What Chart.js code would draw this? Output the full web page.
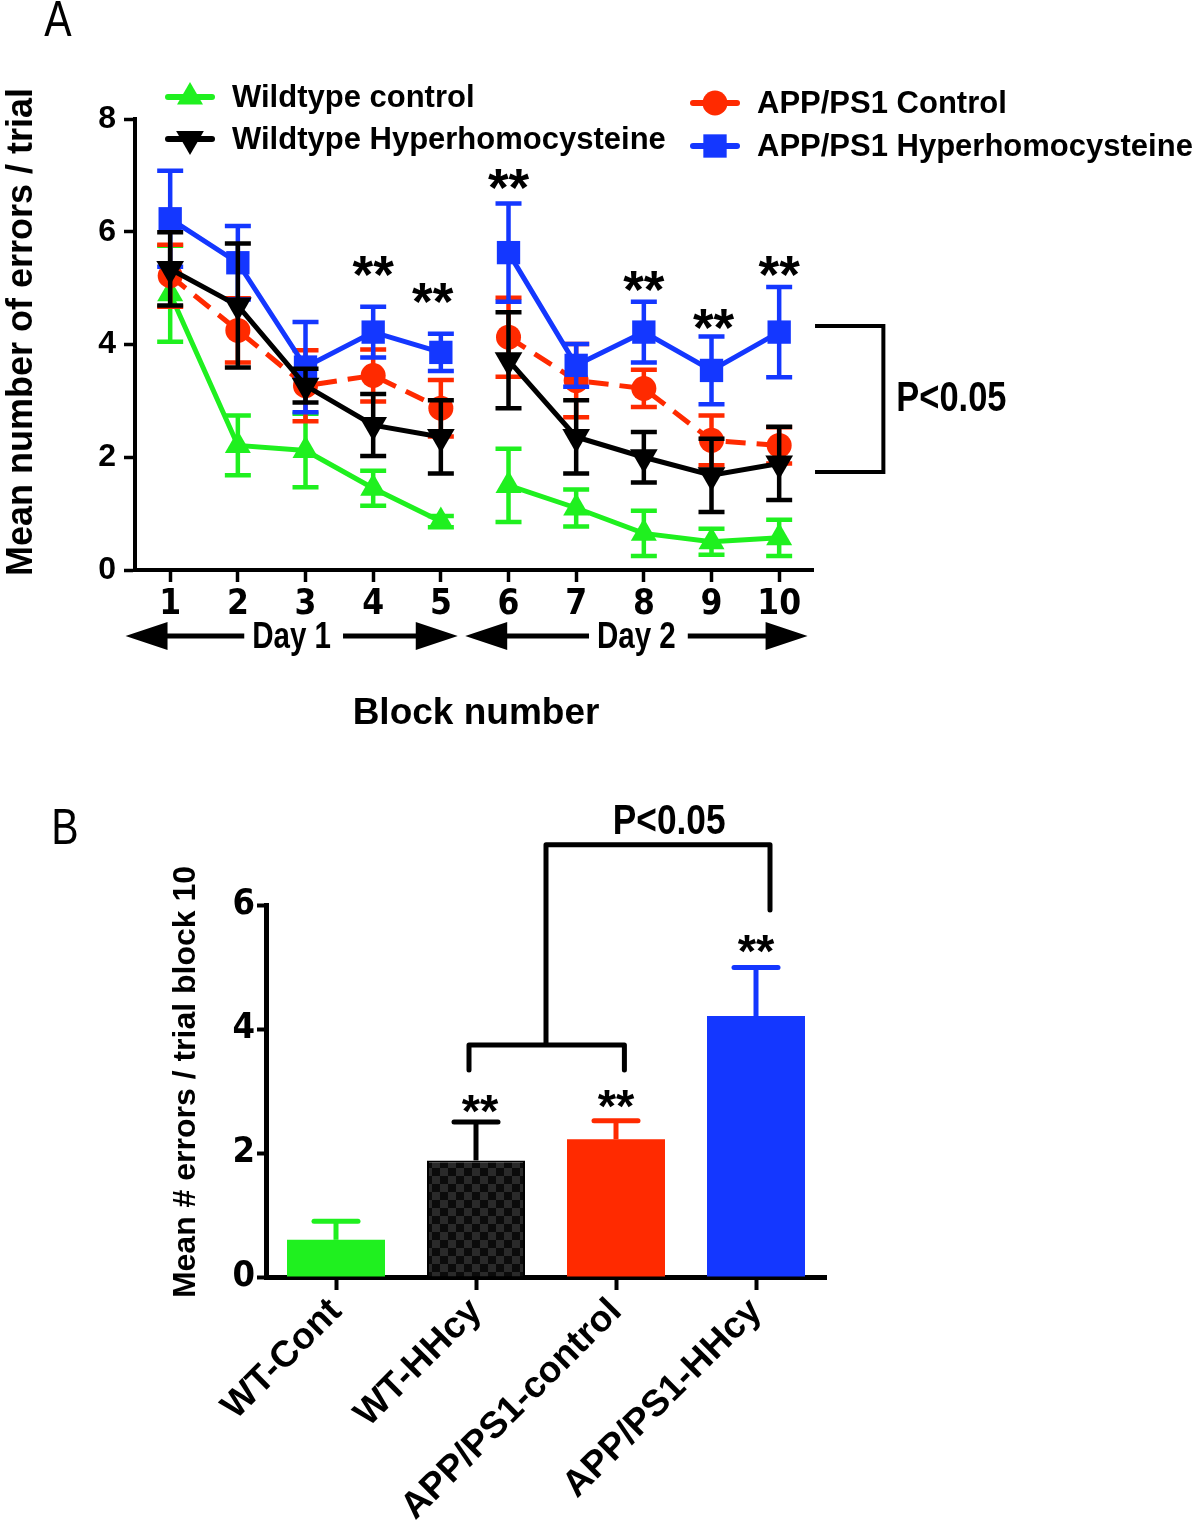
<!DOCTYPE html>
<html>
<head>
<meta charset="utf-8">
<script src="https://cdn.jsdelivr.net/npm/chart.js@4.4.1/dist/chart.umd.min.js"></script>
<style>
  html, body { margin: 0; padding: 0; background: #fff; }
  #wrap { position: relative; width: 1200px; height: 1526px; }
  #chartA { position: absolute; left: 0; top: 0; width: 1200px; height: 760px; }
  #chartB { position: absolute; left: 0; top: 760px; width: 1200px; height: 766px; }
</style>
</head>
<body>
<div id="wrap">
  <canvas id="chartA" width="1200" height="760"></canvas>
  <canvas id="chartB" width="1200" height="766"></canvas>
</div>
<script>
// ---------- data: panel A (mean errors per trial, +/- SEM) ----------
const blocks = [1, 2, 3, 4, 5, 6, 7, 8, 9, 10];

const wtControlMean  = [4.90, 2.21, 2.12, 1.45, 0.86, 1.50, 1.10, 0.65, 0.50, 0.57];
const wtControlSem   = [0.85, 0.53, 0.65, 0.31, 0.10, 0.65, 0.33, 0.40, 0.23, 0.32];
const wtHhcyMean     = [5.34, 4.69, 3.27, 2.57, 2.36, 3.72, 2.36, 2.00, 1.68, 1.89];
const wtHhcySem      = [0.65, 1.10, 0.30, 0.55, 0.65, 0.85, 0.65, 0.45, 0.65, 0.65];
const appControlMean = [5.22, 4.25, 3.27, 3.45, 2.87, 4.13, 3.36, 3.22, 2.30, 2.21];
const appControlSem  = [0.55, 0.57, 0.63, 0.46, 0.50, 0.70, 0.65, 0.33, 0.44, 0.32];
const appHhcyMean    = [6.23, 5.45, 3.60, 4.22, 3.86, 5.63, 3.63, 4.22, 3.54, 4.22];
const appHhcySem     = [0.85, 0.65, 0.80, 0.45, 0.33, 0.87, 0.38, 0.54, 0.60, 0.80];

// significance marks for panel A (block position, level in y units)
const starBlocksA = [4, 4.88, 6, 8, 9.03, 10];
const starLevelsA = [5.40, 4.92, 6.94, 5.13, 4.46, 5.40];

// ---------- data: panel B (block 10) ----------
const groupsB     = ['WT-Cont', 'WT-HHcy', 'APP/PS1-control', 'APP/PS1-HHcy'];
const block10Mean = [0.60, 1.88, 2.22, 4.21];
const block10Sem  = [0.30, 0.62, 0.30, 0.78];
const starLevelsB = [null, 2.82, 2.90, 5.39];

// ---------- look ----------
const GREEN = '#1ff01f';
const BLACK = '#000000';
const RED   = '#ff2a00';
const BLUE  = '#1437ff';
const ARIAL  = '"Liberation Sans", Arial, sans-serif';
const NARROW = '"Liberation Sans Narrow", "Arial Narrow", "DejaVu Sans Condensed", sans-serif';

// line data with a break between day 1 and day 2
function withGap(values) {
  const pts = blocks.map((b, i) => ({ x: b, y: values[i] }));
  pts.splice(5, 0, { x: 5.5, y: null });
  return pts;
}

function drawMarker(ctx, style, x, y, r, rot) {
  ctx.save();
  ctx.translate(x, y);
  ctx.rotate((rot || 0) * Math.PI / 180);
  ctx.beginPath();
  if (style === 'circle') {
    ctx.arc(0, 0, r, 0, Math.PI * 2);
  } else if (style === 'rect') {
    const s = r * Math.SQRT1_2;
    ctx.rect(-s, -s, 2 * s, 2 * s);
  } else if (style === 'triangle') {
    ctx.moveTo(0, -r);
    ctx.lineTo(r * Math.sin(Math.PI / 3), r / 2);
    ctx.lineTo(-r * Math.sin(Math.PI / 3), r / 2);
    ctx.closePath();
  }
  ctx.fill();
  ctx.restore();
}

// Arial Narrow look: bold Arial squeezed horizontally
function narrowText(ctx, text, x, y, size, align, weight) {
  ctx.save();
  ctx.translate(x, y);
  ctx.scale(0.82, 1);
  ctx.font = (weight || 'bold') + ' ' + size + 'px ' + ARIAL;
  ctx.textAlign = align || 'center';
  ctx.textBaseline = 'middle';
  ctx.fillText(text, 0, 0);
  ctx.restore();
}

function narrowWidth(ctx, text, size) {
  ctx.save();
  ctx.font = 'bold ' + size + 'px ' + ARIAL;
  const w = ctx.measureText(text).width * 0.82;
  ctx.restore();
  return w;
}

function drawStars(ctx, x, yCenter, size) {
  ctx.font = 'bold ' + size + 'px ' + ARIAL;
  ctx.textAlign = 'center';
  ctx.textBaseline = 'alphabetic';
  ctx.fillStyle = '#000';
  ctx.fillText('**', x, yCenter + size * 0.52);
}

// ---------- panel A plugins ----------
const errorBarsA = {
  id: 'errorBarsA',
  beforeDatasetDraw(chart, args) {
    const ds = chart.data.datasets[args.index];
    const yScale = chart.scales.y;
    const ctx = chart.ctx;
    ctx.save();
    ctx.strokeStyle = ds.borderColor;
    ctx.lineWidth = 4.5;
    args.meta.data.forEach((pt, i) => {
      const raw = ds.data[i];
      if (raw.y === null) return;
      const sem = ds.sem[blocks.indexOf(raw.x)];
      const yTop = yScale.getPixelForValue(raw.y + sem);
      const yBot = yScale.getPixelForValue(raw.y - sem);
      ctx.beginPath();
      ctx.moveTo(pt.x, yTop); ctx.lineTo(pt.x, yBot);
      ctx.moveTo(pt.x - 13, yTop); ctx.lineTo(pt.x + 13, yTop);
      ctx.moveTo(pt.x - 13, yBot); ctx.lineTo(pt.x + 13, yBot);
      ctx.stroke();
    });
    ctx.restore();
  }
};

const dayArrows = [
  { label: 'Day 1', from: 0.34, to: 5.25 },
  { label: 'Day 2', from: 5.36, to: 10.42 }
];

const annotationsA = {
  id: 'annotationsA',
  afterDraw(chart) {
    const ctx = chart.ctx;
    const xs = chart.scales.x;
    const ys = chart.scales.y;
    ctx.save();
    ctx.fillStyle = '#000';
    ctx.strokeStyle = '#000';

    // panel letter
    narrowText(ctx, 'A', 58, 22, 50, 'center', 'normal');

    // y title
    ctx.save();
    ctx.translate(22, 332);
    ctx.rotate(-Math.PI / 2);
    ctx.font = 'bold 36px ' + ARIAL;
    ctx.textAlign = 'center';
    ctx.textBaseline = 'middle';
    ctx.fillText('Mean number of errors / trial', 0, 0);
    ctx.restore();

    // x title
    ctx.font = 'bold 37px ' + ARIAL;
    ctx.textAlign = 'center';
    ctx.textBaseline = 'middle';
    ctx.fillText('Block number', 476, 714);

    // day arrows
    dayArrows.forEach(a => {
      const x1 = xs.getPixelForValue(a.from);
      const x2 = xs.getPixelForValue(a.to);
      const mid = (x1 + x2) / 2;
      const y = 636;
      const tw = narrowWidth(ctx, a.label, 36);
      ctx.lineWidth = 5;
      ctx.beginPath();
      ctx.moveTo(x1 + 35, y); ctx.lineTo(mid - tw / 2 - 8, y);
      ctx.moveTo(mid + tw / 2 + 12, y); ctx.lineTo(x2 - 35, y);
      ctx.stroke();
      ctx.beginPath();
      ctx.moveTo(x1, y); ctx.lineTo(x1 + 42, y - 14); ctx.lineTo(x1 + 42, y + 14); ctx.closePath();
      ctx.moveTo(x2, y); ctx.lineTo(x2 - 42, y - 14); ctx.lineTo(x2 - 42, y + 14); ctx.closePath();
      ctx.fill();
      narrowText(ctx, a.label, mid, y + 2, 36);
    });

    // significance stars
    starBlocksA.forEach((b, i) => {
      drawStars(ctx, xs.getPixelForValue(b), ys.getPixelForValue(starLevelsA[i]), 53);
    });

    // bracket on the right (block 10: APP/PS1-HHcy vs WT-HHcy)
    const bx0 = xs.getPixelForValue(10.53);
    const bx1 = xs.getPixelForValue(11.54);
    const by0 = ys.getPixelForValue(4.33);
    const by1 = ys.getPixelForValue(1.74);
    ctx.lineWidth = 4;
    ctx.beginPath();
    ctx.moveTo(bx0, by0); ctx.lineTo(bx1, by0); ctx.lineTo(bx1, by1); ctx.lineTo(bx0, by1);
    ctx.stroke();
    narrowText(ctx, 'P<0.05', bx1 + 13, (by0 + by1) / 2 + 1, 42, 'left');

    // legend
    const items = [
      { ds: 0, x: 190, y: 97 },
      { ds: 1, x: 190, y: 139 },
      { ds: 2, x: 715, y: 103 },
      { ds: 3, x: 715, y: 146 }
    ];
    ctx.font = 'bold 31px ' + ARIAL;
    items.forEach(it => {
      const ds = chart.data.datasets[it.ds];
      ctx.strokeStyle = ds.borderColor;
      ctx.fillStyle = ds.borderColor;
      ctx.lineWidth = 6;
      ctx.lineCap = 'round';
      ctx.beginPath();
      ctx.moveTo(it.x - 22, it.y); ctx.lineTo(it.x + 22, it.y);
      ctx.stroke();
      drawMarker(ctx, ds.pointStyle, it.x, it.y, ds.pointRadius, ds.pointRotation);
      ctx.fillStyle = '#000';
      ctx.textAlign = 'left';
      ctx.textBaseline = 'middle';
      ctx.fillText(ds.label, it.x + 42, it.y + 1);
    });
    ctx.restore();
  }
};

new Chart(document.getElementById('chartA'), {
  type: 'line',
  data: {
    datasets: [
      {
        label: 'Wildtype control', data: withGap(wtControlMean), sem: wtControlSem,
        borderColor: GREEN, backgroundColor: GREEN, pointBackgroundColor: GREEN,
        borderWidth: 5, pointStyle: 'triangle', pointRadius: 15, pointBorderWidth: 0, order: 3
      },
      {
        label: 'Wildtype Hyperhomocysteine', data: withGap(wtHhcyMean), sem: wtHhcySem,
        borderColor: BLACK, backgroundColor: BLACK, pointBackgroundColor: BLACK,
        borderWidth: 5, pointStyle: 'triangle', pointRotation: 180, pointRadius: 16, pointBorderWidth: 0, order: 0
      },
      {
        label: 'APP/PS1 Control', data: withGap(appControlMean), sem: appControlSem,
        borderColor: RED, backgroundColor: RED, pointBackgroundColor: RED,
        borderWidth: 5, borderDash: [20, 11], pointStyle: 'circle', pointRadius: 12.5, pointBorderWidth: 0, order: 2
      },
      {
        label: 'APP/PS1 Hyperhomocysteine', data: withGap(appHhcyMean), sem: appHhcySem,
        borderColor: BLUE, backgroundColor: BLUE, pointBackgroundColor: BLUE,
        borderWidth: 5, pointStyle: 'rect', pointRadius: 16.5, pointBorderWidth: 0, order: 1
      }
    ]
  },
  options: {
    responsive: false,
    animation: false,
    spanGaps: false,
    layout: { padding: { left: 0, top: 119, right: 387, bottom: 0 } },
    plugins: { legend: { display: false }, tooltip: { enabled: false } },
    scales: {
      x: {
        type: 'linear', min: 0.48, max: 10.5,
        afterBuildTicks: s => { s.ticks = blocks.map(v => ({ value: v })); },
        afterFit: s => { s.height = 190; },
        border: { display: true, color: '#000', width: 4 },
        grid: { display: true, drawOnChartArea: false, drawTicks: true, tickLength: 12, tickWidth: 3.5, tickColor: '#000' },
        ticks: { color: '#000', font: { family: NARROW, size: 35, weight: 'bold' }, padding: 2, maxRotation: 0, autoSkip: false }
      },
      y: {
        min: 0, max: 8,
        afterFit: s => { s.width = 135; },
        border: { display: true, color: '#000', width: 4 },
        grid: { display: true, drawOnChartArea: false, drawTicks: true, tickLength: 11, tickWidth: 3.5, tickColor: '#000' },
        ticks: { stepSize: 2, color: '#000', font: { family: ARIAL, size: 32, weight: 'bold' }, padding: 8 }
      }
    }
  },
  plugins: [errorBarsA, annotationsA]
});

// ---------- panel B ----------
function checkerPattern(ctx) {
  const c = document.createElement('canvas');
  c.width = 16; c.height = 16;
  const g = c.getContext('2d');
  g.fillStyle = '#0b0b0b';
  g.fillRect(0, 0, 16, 16);
  g.fillStyle = '#2a2a2a';
  g.fillRect(0, 0, 8, 8);
  g.fillRect(8, 8, 8, 8);
  return ctx.createPattern(c, 'repeat');
}

const barColorsB = [GREEN, null, RED, BLUE];

const errorBarsB = {
  id: 'errorBarsB',
  afterDatasetsDraw(chart) {
    const ctx = chart.ctx;
    const ys = chart.scales.y;
    const meta = chart.getDatasetMeta(0);
    ctx.save();
    ctx.lineWidth = 5;
    meta.data.forEach((bar, i) => {
      const top = ys.getPixelForValue(block10Mean[i] + block10Sem[i]);
      ctx.strokeStyle = i === 1 ? BLACK : barColorsB[i];
      ctx.beginPath();
      ctx.moveTo(bar.x, bar.y); ctx.lineTo(bar.x, top);
      ctx.stroke();
      ctx.lineCap = 'round';
      ctx.beginPath();
      ctx.moveTo(bar.x - 22, top); ctx.lineTo(bar.x + 22, top);
      ctx.stroke();
      ctx.lineCap = 'butt';
    });
    ctx.restore();
  }
};

const annotationsB = {
  id: 'annotationsB',
  afterDraw(chart) {
    const ctx = chart.ctx;
    const xs = chart.scales.x;
    const ys = chart.scales.y;
    ctx.save();
    ctx.fillStyle = '#000';
    ctx.strokeStyle = '#000';

    narrowText(ctx, 'B', 65, 70, 50, 'center', 'normal');

    ctx.save();
    ctx.translate(186, 322);
    ctx.rotate(-Math.PI / 2);
    ctx.font = 'bold 32px ' + ARIAL;
    ctx.textAlign = 'center';
    ctx.textBaseline = 'middle';
    ctx.fillText('Mean # errors / trial block 10', 0, 0);
    ctx.restore();

    starLevelsB.forEach((lvl, i) => {
      if (lvl === null) return;
      drawStars(ctx, xs.getPixelForValue(i) + (i === 1 ? 4 : 0), ys.getPixelForValue(lvl), 47);
    });

    // brackets
    ctx.lineWidth = 5;
    ctx.lineCap = 'round';
    ctx.lineJoin = 'round';
    const xl = xs.getPixelForValue(0.95);
    const xr = xs.getPixelForValue(2.06);
    const xm = (xs.getPixelForValue(1) + xs.getPixelForValue(2)) / 2;
    const xb = xs.getPixelForValue(3.1);
    ctx.beginPath();
    ctx.moveTo(xl, ys.getPixelForValue(3.34));
    ctx.lineTo(xl, ys.getPixelForValue(3.74));
    ctx.lineTo(xr, ys.getPixelForValue(3.74));
    ctx.lineTo(xr, ys.getPixelForValue(3.34));
    ctx.moveTo(xm, ys.getPixelForValue(3.74));
    ctx.lineTo(xm, ys.getPixelForValue(6.97));
    ctx.lineTo(xb, ys.getPixelForValue(6.97));
    ctx.lineTo(xb, ys.getPixelForValue(5.92));
    ctx.stroke();

    narrowText(ctx, 'P<0.05', xs.getPixelForValue(2.38), ys.getPixelForValue(7.34), 43);
    ctx.restore();
  }
};

const ctxB = document.getElementById('chartB').getContext('2d');
barColorsB[1] = checkerPattern(ctxB);

new Chart(ctxB, {
  type: 'bar',
  data: {
    labels: groupsB,
    datasets: [{
      data: block10Mean,
      backgroundColor: barColorsB,
      borderColor: '#000',
      borderWidth: [0, 2, 0, 0],
      barPercentage: 0.7,
      categoryPercentage: 1.0
    }]
  },
  options: {
    responsive: false,
    animation: false,
    layout: { padding: { left: 0, top: 145, right: 374, bottom: 0 } },
    plugins: { legend: { display: false }, tooltip: { enabled: false } },
    scales: {
      x: {
        offset: true,
        afterFit: s => { s.height = 249; },
        border: { display: true, color: '#000', width: 5 },
        grid: { display: true, offset: false, drawOnChartArea: false, drawTicks: true, tickLength: 13, tickWidth: 4, tickColor: '#000' },
        ticks: { color: '#000', font: { family: ARIAL, size: 37, weight: 'bold' }, minRotation: 45, maxRotation: 45, padding: 0, autoSkip: false }
      },
      y: {
        min: 0, max: 6,
        afterFit: s => { s.width = 266; },
        border: { display: true, color: '#000', width: 5 },
        grid: { display: true, drawOnChartArea: false, drawTicks: true, tickLength: 9, tickWidth: 4, tickColor: '#000' },
        ticks: { stepSize: 2, color: '#000', font: { family: NARROW, size: 36, weight: 'bold' }, padding: 2 }
      }
    }
  },
  plugins: [errorBarsB, annotationsB]
});
</script>
</body>
</html>
